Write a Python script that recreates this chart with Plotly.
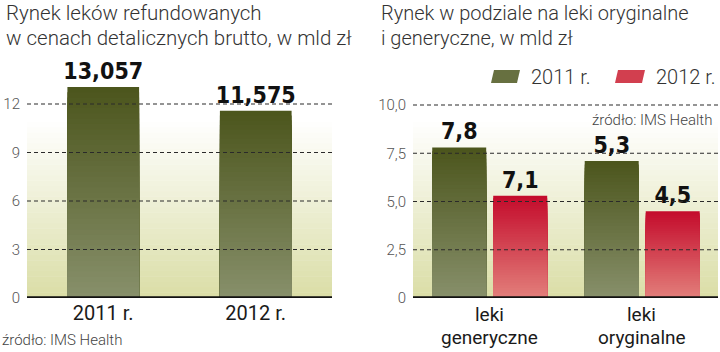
import plotly.graph_objects as go

# ---------------- data ----------------
left_categories = ["2011 r.", "2012 r."]
left_values = [13.057, 11.575]
left_labels = ["13,057", "11,575"]
left_yticks = [0, 3, 6, 9, 12]

right_categories = ["leki generyczne", "leki oryginalne"]
right_label_lines = [["leki", "generyczne"], ["leki", "oryginalne"]]
series_names = ["2011 r.", "2012 r."]
right_values_2011 = [7.8, 7.1]
right_values_2012 = [5.3, 4.5]
right_labels_2011 = ["7,8", "5,3"]
right_labels_2012 = ["7,1", "4,5"]
right_yticks = [0, 2.5, 5, 7.5, 10]
right_yticktext = ["0", "2,5", "5,0", "7,5", "10,0"]

left_title = ["Rynek leków refundowanych", "w cenach detalicznych brutto, w mld zł"]
right_title = ["Rynek w podziale na leki oryginalne", "i generyczne, w mld zł"]
source_text = "źródło: IMS Health"

# ---------------- style ----------------
W, H = 720, 352
OLIVE_TOP, OLIVE_BOT = (0x4c, 0x56, 0x1d), (0x87, 0x8f, 0x6a)
RED_TOP, RED_BOT = (0xc4, 0x0c, 0x2c), (0xe2, 0x7e, 0x7a)
BG_BOT = (0xda, 0xdd, 0xa6)
LIGHT = "Roboto"
NARROW_BOLD = "Liberation Sans Narrow, DejaVu Sans Condensed, Roboto, sans-serif"
NSEG = 40


def lerp(c1, c2, t):
    return "rgb(%d,%d,%d)" % tuple(round(a + (b - a) * t) for a, b in zip(c1, c2))


def px(x):
    return x / W


def py(y):
    return 1 - y / H


fig = go.Figure()


def gradient_bars(x, values, top, bot, xa, ya, width, offset=None, text=None, name=None):
    for i in range(NSEG):
        frac = (NSEG - i) / NSEG
        kw = dict(
            x=x,
            y=[v * frac for v in values],
            xaxis=xa,
            yaxis=ya,
            width=width,
            marker=dict(color=lerp(top, bot, i / (NSEG - 1)), line=dict(width=0)),
            hoverinfo="skip",
            showlegend=False,
        )
        if offset is not None:
            kw["offset"] = offset
        if i == 0 and text is not None:
            kw.update(
                text=text,
                textposition="outside",
                constraintext="none",
                cliponaxis=False,
                textfont=dict(family=NARROW_BOLD, size=23, color="#111111", weight="bold"),
                name=name,
                hoverinfo="x+y",
            )
        fig.add_trace(go.Bar(**kw))


# left chart
gradient_bars(left_categories, left_values, OLIVE_TOP, OLIVE_BOT, "x", "y", 0.47, text=left_labels, name="rynek")
# right chart
gradient_bars(right_categories, right_values_2011, OLIVE_TOP, OLIVE_BOT, "x2", "y2", 0.354,
              offset=-0.374, text=right_labels_2011, name=series_names[0])
gradient_bars(right_categories, right_values_2012, RED_TOP, RED_BOT, "x2", "y2", 0.354,
              offset=0.026, text=right_labels_2012, name=series_names[1])

# ---------------- axes ----------------
ydom = [54 / H, 1 - 84.6 / H]
left_range = [0, 13.2]
right_range = [0, 13.2 * 16.167 / 19.3]

xcommon = dict(type="category", range=[-0.5, 1.5], showgrid=False, zeroline=False,
               showline=False, ticks="", automargin=False,
               tickfont=dict(family=LIGHT, size=20, color="#1a1a1a"),
               ticklabelstandoff=1)
ycommon = dict(showgrid=False, zeroline=False, showline=False, ticks="", automargin=False,
               tickfont=dict(family=LIGHT, size=15, color="#555555", weight=300),
               ticklabelstandoff=6)

fig.update_layout(
    width=W, height=H,
    margin=dict(l=0, r=0, t=0, b=0, autoexpand=False),
    paper_bgcolor="white", plot_bgcolor="rgba(0,0,0,0)",
    barmode="overlay", showlegend=False,
    xaxis=dict(domain=[px(27), px(332)], anchor="y", **xcommon),
    yaxis=dict(domain=ydom, anchor="x", range=left_range, tickvals=left_yticks, **ycommon),
    xaxis2=dict(domain=[px(413), px(718)], anchor="y2", showticklabels=False, **xcommon),
    yaxis2=dict(domain=ydom, anchor="x2", range=right_range, tickvals=right_yticks,
                ticktext=right_yticktext, **ycommon),
)

# ---------------- background gradients, grid, baseline ----------------
shapes = []
for xa, ya, white_at, top in (("x", "y", 11.0, left_range[1]), ("x2", "y2", 9.2, right_range[1])):
    nb = 40
    for k in range(nb):
        y0 = top * k / nb
        y1 = top * (k + 1) / nb
        t = min(1.0, (y0 + y1) / 2 / white_at)
        shapes.append(dict(type="rect", xref=xa + " domain", yref=ya, x0=0, x1=1, y0=y0, y1=y1 + 0.02,
                           fillcolor=lerp(BG_BOT, (255, 255, 255), t), line=dict(width=0), layer="below"))
for xa, ya, ticks in (("x", "y", left_yticks), ("x2", "y2", right_yticks)):
    for v in ticks[1:]:
        shapes.append(dict(type="line", xref=xa + " domain", yref=ya, x0=0, x1=1, y0=v, y1=v,
                           line=dict(color="#2a2a2a", width=1.1, dash="4px,3px"), layer="above"))
    shapes.append(dict(type="line", xref=xa + " domain", yref=ya, x0=0, x1=1, y0=0, y1=0,
                       line=dict(color="#111111", width=3.5), layer="above"))

# legend swatches (parallelograms)
annotations = []
for (x0, x1), col_top, col_bot, name in (((491, 520), OLIVE_TOP, OLIVE_BOT, series_names[0]),
                                         ((615, 645), RED_TOP, RED_BOT, series_names[1])):
    ytop, ybot = 70, 83
    path = "M %f,%f L %f,%f L %f,%f L %f,%f Z" % (
        px(x0 + 3), py(ytop), px(x1), py(ytop), px(x1 - 3), py(ybot), px(x0), py(ybot))
    shapes.append(dict(type="path", xref="paper", yref="paper", path=path,
                       fillcolor=lerp(col_top, col_bot, 0.45), line=dict(width=0)))
    annotations.append(dict(text=name, xref="paper", yref="paper", x=px(x1 + 9), y=py(77),
                            xanchor="left", yanchor="middle", showarrow=False,
                            font=dict(family=LIGHT, size=20, color="#333333", weight=300)))

fig.update_layout(shapes=shapes)

# right category labels (two tight lines each)
for cat, lines in zip(right_categories, right_label_lines):
    for j, line in enumerate(lines):
        annotations.append(dict(text=line, xref="x2", yref="paper", x=cat, y=py(314 + j * 23),
                                xanchor="center", yanchor="middle", showarrow=False,
                                font=dict(family=LIGHT, size=19, color="#1a1a1a")))

# titles
for lines, x, size in ((left_title, 4, 20.5), (right_title, 379, 20)):
    for j, line in enumerate(lines):
        annotations.append(dict(text=line, xref="paper", yref="paper", x=px(x), y=py(13 + j * 25),
                                xanchor="left", yanchor="middle", showarrow=False,
                                font=dict(family=LIGHT, size=size, color="#333333", weight=300)))
# sources
annotations.append(dict(text=source_text, xref="paper", yref="paper", x=px(0), y=py(340),
                        xanchor="left", yanchor="middle", showarrow=False,
                        font=dict(family=LIGHT, size=15, color="#444444", weight=300)))
annotations.append(dict(text=source_text, xref="paper", yref="paper", x=px(714), y=py(120),
                        xanchor="right", yanchor="middle", showarrow=False,
                        font=dict(family=LIGHT, size=15, color="#444444", weight=300)))
fig.update_layout(annotations=annotations)

fig.write_html("out.html")
